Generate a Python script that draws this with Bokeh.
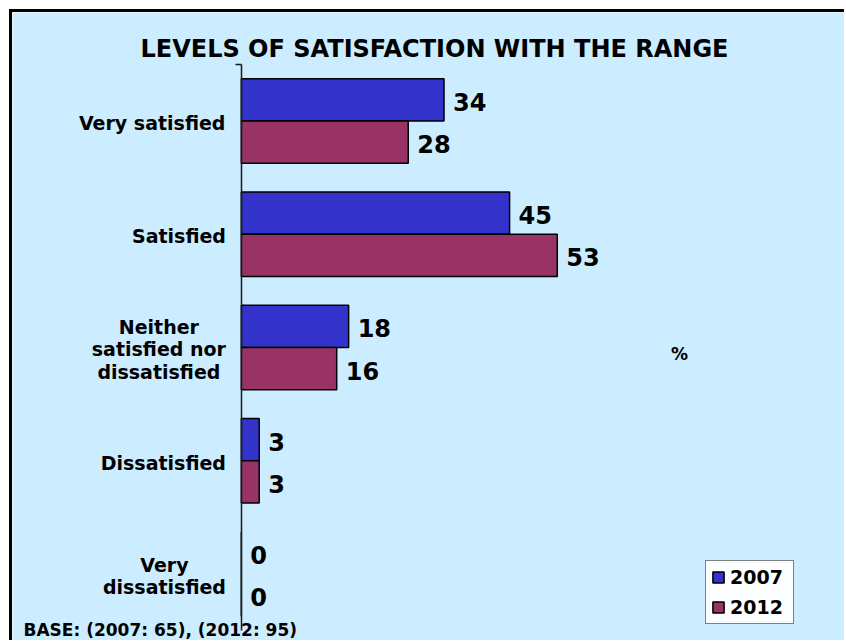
from bokeh.plotting import figure
from bokeh.models import (ColumnDataSource, Range1d, Label, Legend, LegendItem,
                          LinearAxis, FixedTicker)
from bokeh.core.properties import value
from bokeh.embed import file_html
from bokeh.resources import INLINE

# ---- data ----
categories = ["Very satisfied", "Satisfied", "Neither\nsatisfied nor\ndissatisfied",
              "Dissatisfied", "Very\ndissatisfied"]
values_2007 = [34, 45, 18, 3, 0]
values_2012 = [28, 53, 16, 3, 0]
series_names = ["2007", "2012"]
title_text = "LEVELS OF SATISFACTION WITH THE RANGE"
base_text = "BASE: (2007: 65), (2012: 95)"
axis_unit = "%"

# ---- style / layout ----
BG = "#CCECFF"
C2007 = "#3333CC"
C2012 = "#993366"
FONT = "DejaVu Sans"
CAT_FS = 19
PX = 5.94            # pixels per percent
ROW = 112.7          # pixels per category row
ROW0 = 120.0         # page y of first category centre
AXIS_X = 240.0       # page x of the value axis
CAN_L, CAN_T, CAN_R, CAN_B = 12, 12, 844, 640   # canvas in page pixels
FL = 12              # frame left (page px)
BH = 0.373           # bar height (fraction of row)

x0 = (FL - AXIS_X) / PX
x1 = (CAN_R - AXIS_X) / PX
y_bot = (CAN_B - ROW0) / ROW
y_top = (CAN_T - ROW0) / ROW

idx = list(range(len(categories)))
src = ColumnDataSource(dict(
    y07=[i - BH / 2 for i in idx],
    y12=[i + BH / 2 for i in idx],
    v07=values_2007,
    v12=values_2012,
    t07=[str(v) for v in values_2007],
    t12=[str(v) for v in values_2012],
))

# approximate DejaVu Sans Bold advance widths (em) for centring wrapped labels
W = {" ": .348, "a": .675, "d": .716, "e": .678, "f": .435, "h": .712, "i": .343,
     "n": .712, "o": .687, "r": .493, "s": .595, "t": .478, "y": .652, "V": .774,
     "N": .837, "S": .720, "D": .830}
def text_w(s):
    return sum(W.get(c, .65) for c in s) * CAT_FS

lab = dict(x=[], y=[], text=[], xo=[], yo=[])
for i, cat in enumerate(categories):
    lines = cat.split("\n")
    w = max(text_w(s) for s in lines)
    n = len(lines)
    for k, s in enumerate(lines):
        lab["x"].append(0)
        lab["y"].append(i)
        lab["text"].append(s)
        lab["xo"].append(-(15 + w / 2))
        lab["yo"].append(2 + (k - (n - 1) / 2) * 22.8)
lab_src = ColumnDataSource(lab)

p = figure(
    width=CAN_R - CAN_L + 3, height=CAN_B - CAN_T + 3,
    x_range=Range1d(x0, x1), y_range=Range1d(y_bot, y_top),
    x_axis_location=None, y_axis_location=None,
    output_backend="svg", toolbar_location=None,
    min_border_left=0, min_border_top=0, min_border_right=0, min_border_bottom=0,
    background_fill_color=BG, border_fill_color=BG,
)
p.styles = {"border-left": "3px solid black", "border-top": "3px solid black",
            "margin-left": "9px", "margin-top": "9px"}
p.outline_line_color = None
p.grid.visible = False

r07 = p.hbar(y="y07", right="v07", left=0, height=BH, source=src,
             fill_color=C2007, line_color="black", line_width=1.5)
r12 = p.hbar(y="y12", right="v12", left=0, height=BH, source=src,
             fill_color=C2012, line_color="black", line_width=1.5)

for col, ycol, tcol in (("v07", "y07", "t07"), ("v12", "y12", "t12")):
    p.text(x=col, y=ycol, text=tcol, source=src,
           x_offset=9, y_offset=2, text_baseline="middle", text_align="left",
           text_font=value(FONT), text_font_style="bold", text_font_size="24px",
           text_color="black")

# category labels
p.text(x="x", y="y", text="text", x_offset="xo", y_offset="yo", source=lab_src,
       text_align="center", text_baseline="middle", text_font=value(FONT),
       text_font_style="bold", text_font_size=f"{CAT_FS}px", text_color="black")

# category axis line
ax = LinearAxis(fixed_location=0, bounds=(-0.5, len(categories) - 0.5),
                ticker=FixedTicker(ticks=[-0.5]), major_label_overrides={-0.5: ""})
ax.axis_line_color = "#1a1a1a"
ax.axis_line_width = 1.5
ax.major_tick_line_color = "#1a1a1a"
ax.major_tick_line_width = 1.5
ax.major_tick_out = 6
ax.major_tick_in = 0
ax.minor_tick_line_color = None
ax.major_label_text_font_size = "1px"
ax.major_label_standoff = 0
p.add_layout(ax, "left")

H = CAN_B  # frame bottom in page px
p.add_layout(Label(x=434 - FL, y=H - 45, x_units="screen", y_units="screen",
                   text=title_text, text_align="center", text_baseline="middle",
                   text_font=FONT, text_font_style="bold", text_font_size="24px",
                   text_color="black"))
p.add_layout(Label(x=23 - FL, y=H - 626, x_units="screen", y_units="screen",
                   text=base_text, text_align="left", text_baseline="middle",
                   text_font=FONT, text_font_style="bold", text_font_size="17px",
                   text_color="black"))
p.add_layout(Label(x=679 - FL, y=H - 350, x_units="screen", y_units="screen",
                   text=axis_unit, text_align="center", text_baseline="middle",
                   text_font=FONT, text_font_style="bold", text_font_size="17px",
                   text_color="black"))

legend = Legend(items=[LegendItem(label=series_names[0], renderers=[r07]),
                       LegendItem(label=series_names[1], renderers=[r12])],
                location=(705 - FL, H - 621))
legend.background_fill_color = "white"
legend.border_line_color = "black"
legend.border_line_width = 1.5
legend.label_text_font = FONT
legend.label_text_font_style = "bold"
legend.label_text_font_size = "19px"
legend.label_text_color = "black"
legend.glyph_width = 14
legend.glyph_height = 14
legend.label_standoff = 5
legend.label_height = 22
legend.label_width = 58
legend.padding = 5
legend.spacing = 8
legend.margin = 0
p.add_layout(legend, "center")

open("out.html", "w").write(file_html(p, INLINE))
